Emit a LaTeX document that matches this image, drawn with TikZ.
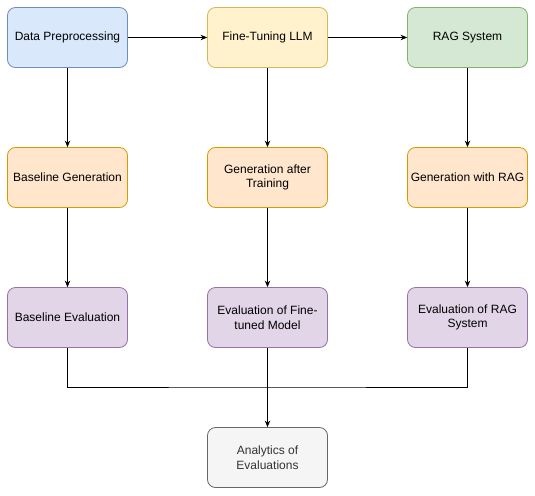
\documentclass[tikz,border=0pt]{standalone}
\usepackage{fontspec}
\setmainfont{Liberation Sans}
\usepackage{xcolor}
\usetikzlibrary{arrows.meta, positioning, calc}
\definecolor{prepFill}{HTML}{DAE8FC}
\definecolor{prepLine}{HTML}{6C8EBF}
\definecolor{tuneFill}{HTML}{FFF2CC}
\definecolor{tuneLine}{HTML}{D6B656}
\definecolor{ragFill}{HTML}{D5E8D4}
\definecolor{ragLine}{HTML}{82B366}
\definecolor{genFill}{HTML}{FFE6CC}
\definecolor{genLine}{HTML}{D79B00}
\definecolor{evalFill}{HTML}{E1D5E7}
\definecolor{evalLine}{HTML}{9673A6}
\definecolor{sumFill}{HTML}{F5F5F5}
\definecolor{sumLine}{HTML}{666666}
\definecolor{sumText}{HTML}{333333}
\tikzset{
    stagebox/.style={
        rectangle,
        rounded corners=8pt,
        align=center,
        minimum width=120pt,
        minimum height=60pt,
        line width=0.8pt,
        inner sep=2pt,
        font=\fontsize{12}{14.5}\selectfont
    },
    prepbox/.style={stagebox, draw=prepLine, fill=prepFill},
    tunebox/.style={stagebox, draw=tuneLine, fill=tuneFill},
    ragbox/.style={stagebox, draw=ragLine, fill=ragFill},
    genbox/.style={stagebox, draw=genLine, fill=genFill},
    evalbox/.style={stagebox, draw=evalLine, fill=evalFill},
    sumbox/.style={stagebox, draw=sumLine, fill=sumFill, text=sumText},
    flowarrow/.style={-{Stealth[length=6.5pt, width=5.5pt]}, line width=0.9pt, draw=black},
    flowline/.style={line width=0.9pt, draw=black}
}

\begin{document}
\begin{tikzpicture}[x=1pt,y=-1pt]
        \useasboundingbox (0,0) rectangle (535,495);
        % top row
        \node[prepbox] (prep) at (67.5,37.5) {Data Preprocessing};
        \node[tunebox] (tune) at (267.5,37.5) {Fine-Tuning LLM};
        \node[ragbox] (rag) at (467.5,37.5) {RAG System};
        % generation
        \node[genbox] (genbase) at (67.5,177.5) {Baseline Generation};
        \node[genbox] (gentune) at (267.5,177.5) {Generation after\\Training};
        \node[genbox] (genrag) at (467.5,177.5) {Generation with RAG};
        % evaluation
        \node[evalbox] (evalbase) at (67.5,317.5) {Baseline Evaluation};
        \node[evalbox] (evaltune) at (267.5,317.5) {Evaluation of Fine-\\tuned Model};
        \node[evalbox] (evalrag) at (467.5,317.5) {Evaluation of RAG\\System};
        % summary
        \node[sumbox] (analytics) at (267.5,457.5) {Analytics of\\Evaluations};
        \coordinate (merge) at (267.5,387);

        \draw[flowarrow] (prep.east) -- (tune.west);
        \draw[flowarrow] (tune.east) -- (rag.west);
        \draw[flowarrow] (prep.south) -- (genbase.north);
        \draw[flowarrow] (tune.south) -- (gentune.north);
        \draw[flowarrow] (rag.south) -- (genrag.north);
        \draw[flowarrow] (genbase.south) -- (evalbase.north);
        \draw[flowarrow] (gentune.south) -- (evaltune.north);
        \draw[flowarrow] (genrag.south) -- (evalrag.north);
        \draw[flowline] (evalbase.south) |- (merge) -| (evalrag.south);
        \draw[flowarrow] (evaltune.south) -- (analytics.north);
    \end{tikzpicture}
\end{document}
